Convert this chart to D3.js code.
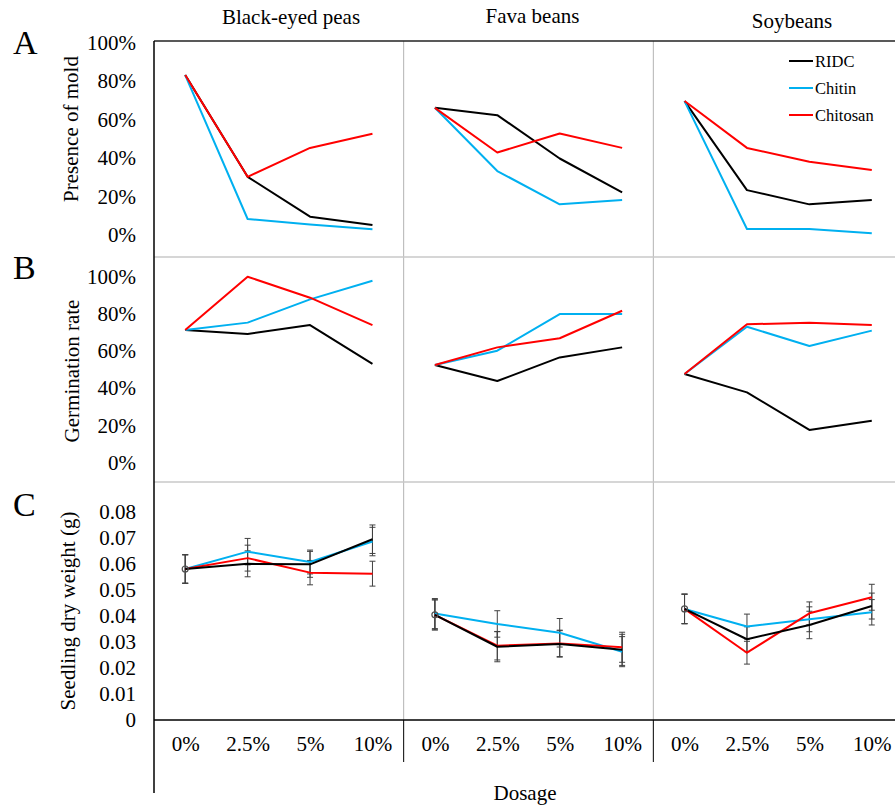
<!DOCTYPE html>
<html>
<head>
<meta charset="utf-8">
<script src="https://cdn.jsdelivr.net/npm/d3@7"></script>
<style>
  body { margin: 0; background: #fff; }
</style>
</head>
<body>
<div id="chart"></div>
<script>
// Categorias e séries
var crops = ["Black-eyed peas", "Fava beans", "Soybeans"];
var dosages = ["0%", "2.5%", "5%", "10%"];
var treatments = ["RIDC", "Chitin", "Chitosan"];
var colors = ["#000000", "#00b0f0", "#ff0000"];

// A - Presença de mofo (fração), um vetor por cultura
var moldRIDC     = [[0.83, 0.302, 0.095, 0.052], [0.66, 0.622, 0.397, 0.221], [0.695, 0.233, 0.159, 0.181]];
var moldChitin   = [[0.83, 0.083, 0.055, 0.030], [0.66, 0.332, 0.159, 0.181], [0.695, 0.031, 0.031, 0.009]];
var moldChitosan = [[0.83, 0.302, 0.452, 0.525], [0.66, 0.428, 0.527, 0.452], [0.695, 0.452, 0.380, 0.337]];

// B - Taxa de germinação
var germRIDC     = [[0.712, 0.691, 0.739, 0.530], [0.524, 0.438, 0.565, 0.619], [0.476, 0.377, 0.175, 0.225]];
var germChitin   = [[0.712, 0.752, 0.877, 0.977], [0.524, 0.601, 0.798, 0.798], [0.476, 0.730, 0.626, 0.709]];
var germChitosan = [[0.712, 0.999, 0.886, 0.739], [0.524, 0.619, 0.668, 0.816], [0.476, 0.743, 0.752, 0.739]];

// C - Peso seco das plântulas (g) e barras de erro
var weightRIDC     = [[0.0580, 0.0600, 0.0598, 0.0695], [0.0403, 0.0280, 0.0291, 0.0268], [0.0426, 0.0309, 0.0364, 0.0437]];
var weightChitin   = [[0.0580, 0.0647, 0.0607, 0.0686], [0.0408, 0.0368, 0.0334, 0.0261], [0.0426, 0.0358, 0.0386, 0.0413]];
var weightChitosan = [[0.0580, 0.0622, 0.0566, 0.0562], [0.0403, 0.0284, 0.0293, 0.0278], [0.0426, 0.0257, 0.0409, 0.0471]];
var errRIDC     = [[0.0055, 0.0050, 0.0050, 0.0055], [0.0058, 0.0058, 0.0051, 0.0060], [0.0057, 0.0048, 0.0053, 0.0050]];
var errChitin   = [[0.0055, 0.0051, 0.0046, 0.0055], [0.0058, 0.0051, 0.0055, 0.0058], [0.0057, 0.0048, 0.0048, 0.0049]];
var errChitosan = [[0.0055, 0.0050, 0.0047, 0.0048], [0.0058, 0.0055, 0.0051, 0.0058], [0.0057, 0.0044, 0.0044, 0.0050]];

// Rótulos dos eixos
var pctTicks = [0, 0.2, 0.4, 0.6, 0.8, 1];
var weightTicks = [0, 0.01, 0.02, 0.03, 0.04, 0.05, 0.06, 0.07, 0.08];

var width = 895, height = 810;
var serif = "'Liberation Serif', 'Times New Roman', Times, serif";
// Obs: "top" é reservado no window, por isso plotTop
var plotLeft = 154, plotRight = 903, plotTop = 41, axisY = 720;

var svg = d3.select("#chart").append("svg")
    .attr("width", width)
    .attr("height", height)
    .attr("font-family", serif);

// Escala das colunas (uma por cultura)
var col = d3.scaleBand().domain(crops).range([plotLeft, plotRight]);

// Cada linha do painel tem sua própria escala y
var rows = [
  { letter: "A", title: "Presence of mold",
    y: d3.scaleLinear().domain([0, 1]).range([235, 42.3]),
    ticks: pctTicks, fmt: d3.format(".0%"),
    series: [moldRIDC, moldChitin, moldChitosan], order: [0, 1, 2],
    letterY: 54, labelX: 78, labelY: 129 },
  { letter: "B", title: "Germination rate",
    y: d3.scaleLinear().domain([0, 1]).range([462.5, 276.5]),
    ticks: pctTicks, fmt: d3.format(".0%"),
    series: [germRIDC, germChitin, germChitosan], order: [0, 1, 2],
    letterY: 279, labelX: 79, labelY: 371 },
  { letter: "C", title: "Seedling dry weight (g)",
    y: d3.scaleLinear().domain([0, 0.08]).range([719.3, 512]),
    ticks: weightTicks, fmt: function(d) { return d === 0 ? "0" : d3.format(".2f")(d); },
    series: [weightRIDC, weightChitin, weightChitosan], order: [1, 2, 0],
    errors: [errRIDC, errChitin, errChitosan],
    letterY: 516, labelX: 75, labelY: 611 }
];

// Linhas de grade cinza (separadores de painéis)
crops.slice(1).forEach(function(c) {
  svg.append("line")
    .attr("x1", col(c)).attr("x2", col(c))
    .attr("y1", plotTop).attr("y2", axisY)
    .attr("stroke", "#b4b4b4").attr("stroke-width", 1);
  svg.append("line")
    .attr("x1", col(c)).attr("x2", col(c))
    .attr("y1", axisY).attr("y2", 762)
    .attr("stroke", "#000").attr("stroke-width", 1);
});
[257, 482].forEach(function(yy) {
  svg.append("line")
    .attr("x1", plotLeft).attr("x2", width)
    .attr("y1", yy).attr("y2", yy)
    .attr("stroke", "#c8c8c8").attr("stroke-width", 1.5);
});

// Bordas pretas
svg.append("line").attr("x1", plotLeft).attr("x2", width).attr("y1", plotTop).attr("y2", plotTop)
  .attr("stroke", "#222").attr("stroke-width", 1.5);
svg.append("line").attr("x1", plotLeft).attr("x2", plotLeft).attr("y1", plotTop).attr("y2", 793)
  .attr("stroke", "#000").attr("stroke-width", 1.5);
svg.append("line").attr("x1", plotLeft).attr("x2", width).attr("y1", axisY).attr("y2", axisY)
  .attr("stroke", "#000").attr("stroke-width", 1.5);

var line = d3.line();

rows.forEach(function(row) {
  // Eixo y
  svg.append("g")
      .attr("transform", "translate(" + plotLeft + ",0)")
      .call(d3.axisLeft(row.y).tickValues(row.ticks).tickFormat(row.fmt).tickSize(0).tickPadding(18))
      .attr("font-family", serif)
      .attr("font-size", 21)
      .call(function(g) { g.select(".domain").remove(); })
      .selectAll("text")
      .attr("fill", "#000");

  // Título do eixo y
  svg.append("text")
      .attr("transform", "translate(" + row.labelX + "," + row.labelY + ") rotate(-90)")
      .attr("text-anchor", "middle")
      .attr("font-size", 21)
      .text(row.title);

  // Letra do painel
  svg.append("text")
      .attr("x", 13).attr("y", row.letterY)
      .attr("font-size", 34)
      .text(row.letter);

  crops.forEach(function(crop, ci) {
    var x = d3.scalePoint().domain(dosages)
        .range([col(crop), col(crop) + col.bandwidth()]).padding(0.5);

    // Barras de erro (apenas painel C)
    if (row.errors) {
      row.order.forEach(function(si) {
        var vals = row.series[si][ci], errs = row.errors[si][ci];
        var g = svg.append("g").attr("stroke", "#404040").attr("stroke-width", 1);
        vals.forEach(function(v, i) {
          var cx = x(dosages[i]);
          g.append("line").attr("x1", cx).attr("x2", cx)
            .attr("y1", row.y(v - errs[i])).attr("y2", row.y(v + errs[i]));
          [v - errs[i], v + errs[i]].forEach(function(e) {
            g.append("line").attr("x1", cx - 3).attr("x2", cx + 3)
              .attr("y1", row.y(e)).attr("y2", row.y(e));
          });
        });
      });
    }

    row.order.forEach(function(si) {
      var vals = row.series[si][ci];
      svg.append("path")
          .attr("fill", "none")
          .attr("stroke", colors[si])
          .attr("stroke-width", 2)
          .attr("stroke-linejoin", "round")
          .attr("d", line(vals.map(function(v, i) { return [x(dosages[i]), row.y(v)]; })));
    });

    if (row.errors) {
      svg.append("circle")
          .attr("cx", x(dosages[0])).attr("cy", row.y(row.series[0][ci][0]))
          .attr("r", 3).attr("fill", "none").attr("stroke", "#505050").attr("stroke-width", 1.2);
    }

    // Eixo x de cada cultura
    if (row.letter === "C") {
      svg.append("g")
          .attr("transform", "translate(0," + axisY + ")")
          .call(d3.axisBottom(x).tickSize(0).tickPadding(16))
          .attr("font-family", serif)
          .attr("font-size", 21)
          .call(function(g) { g.select(".domain").remove(); })
          .selectAll("text")
          .attr("fill", "#000");
    }
  });
});

// Títulos das colunas
var titleX = [291, 532.5, 792];
var titleY = [24, 23.3, 28.3];
crops.forEach(function(crop, i) {
  svg.append("text")
      .attr("x", titleX[i]).attr("y", titleY[i])
      .attr("text-anchor", "middle")
      .attr("font-size", 21)
      .text(crop);
});

// Título do eixo x
svg.append("text")
    .attr("x", 525).attr("y", 800)
    .attr("text-anchor", "middle")
    .attr("font-size", 21)
    .text("Dosage");

// Legenda
var legendY = [61, 88, 115];
treatments.forEach(function(t, i) {
  svg.append("line")
      .attr("x1", 789).attr("x2", 813)
      .attr("y1", legendY[i]).attr("y2", legendY[i])
      .attr("stroke", colors[i]).attr("stroke-width", 2);
  svg.append("text")
      .attr("x", 815).attr("y", legendY[i]).attr("dy", "0.35em")
      .attr("font-size", 16.5)
      .text(t);
});
</script>
</body>
</html>
